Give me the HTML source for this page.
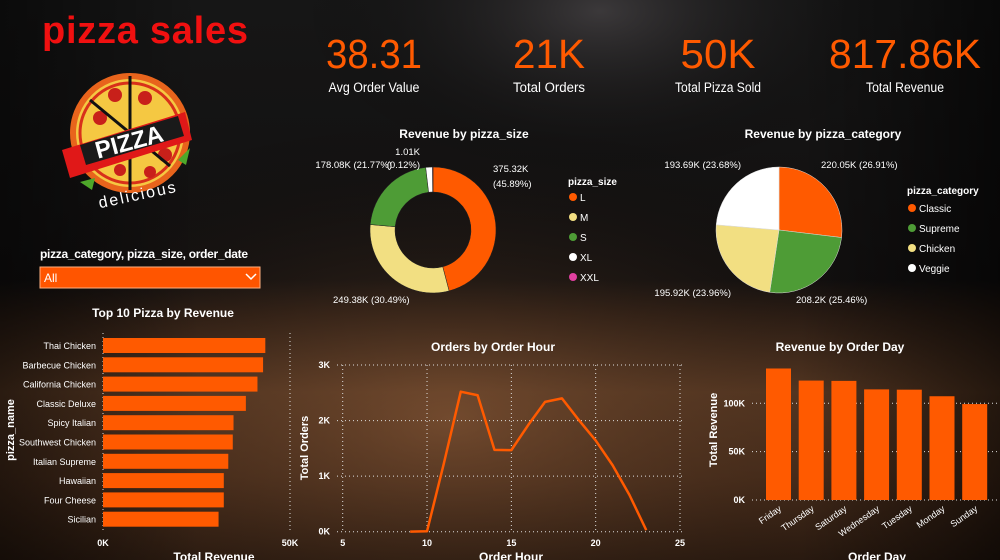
<!DOCTYPE html>
<html><head><meta charset="utf-8"><style>
html,body{margin:0;padding:0;width:1000px;height:560px;overflow:hidden;background:#111;font-family:"Liberation Sans",sans-serif}
svg{display:block}
text{font-family:"Liberation Sans",sans-serif}
</style></head><body>
<svg id="s" width="1000" height="560" viewBox="0 0 1000 560">
<defs>
<linearGradient id="bg" x1="0" y1="0" x2="0" y2="1">
<stop offset="0" stop-color="#161616"/><stop offset="0.5" stop-color="#121010"/><stop offset="0.56" stop-color="#2a1c14"/><stop offset="0.7" stop-color="#5a3a24"/><stop offset="0.85" stop-color="#4a2e1c"/><stop offset="1" stop-color="#2a1a10"/>
</linearGradient>
<radialGradient id="glow" cx="0.6" cy="0.02" r="0.3"><stop offset="0" stop-color="#5a5558" stop-opacity="0.55"/><stop offset="1" stop-color="#000" stop-opacity="0"/></radialGradient>
<radialGradient id="wood" cx="0.45" cy="0.75" r="0.55"><stop offset="0" stop-color="#8a5a38" stop-opacity="0.55"/><stop offset="1" stop-color="#000" stop-opacity="0"/></radialGradient>
<linearGradient id="side" x1="0" y1="0" x2="1" y2="0"><stop offset="0" stop-color="#000" stop-opacity="0.5"/><stop offset="0.2" stop-color="#000" stop-opacity="0"/><stop offset="0.8" stop-color="#000" stop-opacity="0"/><stop offset="1" stop-color="#000" stop-opacity="0.6"/></linearGradient>
</defs>
<rect width="1000" height="560" fill="url(#bg)"/>
<rect width="1000" height="560" fill="url(#glow)"/>
<rect width="1000" height="560" fill="url(#wood)"/>
<rect width="1000" height="560" fill="url(#side)"/>

<text x="42" y="43" font-size="38" font-weight="bold" fill="#f01010" textLength="206">pizza sales</text>

<g>
<circle cx="130" cy="133" r="57" fill="#f5c842" stroke="#e8641c" stroke-width="6"/>
<circle cx="130" cy="133" r="50" fill="none" stroke="#d8301a" stroke-width="3"/>
<circle cx="115" cy="95" r="7" fill="#c8201a"/><circle cx="145" cy="98" r="7" fill="#c8201a"/><circle cx="100" cy="118" r="7" fill="#c8201a"/>
<circle cx="165" cy="155" r="7" fill="#c8201a"/><circle cx="120" cy="170" r="6" fill="#c8201a"/><circle cx="150" cy="172" r="6" fill="#c8201a"/>
<line x1="130" y1="76" x2="130" y2="190" stroke="#111" stroke-width="3"/>
<line x1="90" y1="100" x2="170" y2="166" stroke="#111" stroke-width="3"/>
<polygon points="62,150 185,112 192,140 70,178" fill="#e01818"/>
<polygon points="80,145 178,116 184,136 86,165" fill="#1a1a1a"/>
<text x="130" y="150" font-size="24" font-weight="bold" fill="#fff" text-anchor="middle" transform="rotate(-15 130 145)">PIZZA</text>
<path d="M80 182 L95 178 L92 190Z" fill="#4ea82a"/><path d="M178 160 L190 148 L186 165Z" fill="#4ea82a"/>
<text x="138" y="200" font-size="16" fill="#fff" text-anchor="middle" letter-spacing="2" transform="rotate(-12 138 195)">delicious</text>
</g>

<g id="kpis"></g>

<text x="40" y="258" font-size="12" font-weight="bold" fill="#fff" textLength="208">pizza_category, pizza_size, order_date</text>
<g>
<rect x="40" y="267" width="220" height="21" fill="#ff5500" stroke="#ffb080" stroke-width="1"/>
<text x="44" y="282" font-size="12" fill="#fff">All</text>
<path d="M246 274 l5 5 l5 -5" fill="none" stroke="#fff" stroke-width="1.5"/>
</g>

<g id="donut"></g>
<g id="pie"></g>
<g id="top10"></g>
<g id="hour"></g>
<g id="day"></g>
</svg>
<script>
const kpiValues=["38.31","21K","50K","817.86K"];
const kpiLabels=["Avg Order Value","Total Orders","Total Pizza Sold","Total Revenue"];
const sizeCats=["L","M","S","XL","XXL"];
const sizeVals=[375.32,249.38,178.08,14.08,1.01];
const catNames=["Classic","Supreme","Chicken","Veggie"];
const catVals=[220.05,208.2,195.92,193.69];
const catLabels=["220.05K (26.91%)","208.2K (25.46%)","195.92K (23.96%)","193.69K (23.68%)"];
const topNames=["Thai Chicken","Barbecue Chicken","California Chicken","Classic Deluxe","Spicy Italian","Southwest Chicken","Italian Supreme","Hawaiian","Four Cheese","Sicilian"];
const topVals=[43.4,42.8,41.3,38.2,34.9,34.7,33.5,32.3,32.3,30.9];
const topTicks=[0,50];
const hours=[9,10,11,12,13,14,15,16,17,18,19,20,21,22,23];
const hourOrders=[1,8,1231,2520,2455,1472,1468,1920,2336,2399,2009,1642,1198,663,28];
const hourXTicks=[5,10,15,20,25];
const hourYTicks=[0,1000,2000,3000];
const days=["Friday","Thursday","Saturday","Wednesday","Tuesday","Monday","Sunday"];
const dayVals=[136,123.5,123.2,114.4,114.1,107.3,99.2];
const dayTicks=[0,50,100];

const NS="http://www.w3.org/2000/svg";
function mk(p,t,a,txt){const e=document.createElementNS(NS,t);for(const k in a)e.setAttribute(k,a[k]);if(txt!==undefined)e.textContent=txt;p.appendChild(e);return e;}
const O="#ff5a00";

// KPIs
const kg=document.getElementById('kpis');const kx=[374,549,718,905];const kw=[96,72,75,152];const lw=[91,72,86,78];
kpiValues.forEach((v,i)=>{
 const t=mk(kg,'text',{x:kx[i]-kw[i]/2,y:68,'font-size':41,fill:O,textLength:kw[i],lengthAdjust:'spacingAndGlyphs'},v);
 
 const l=mk(kg,'text',{x:kx[i]-lw[i]/2,y:92,'font-size':13.5,fill:'#fff',textLength:lw[i],lengthAdjust:'spacingAndGlyphs'},kpiLabels[i]);
 
});

function arc(cx,cy,r,ri,a0,a1){const p=(a,rr)=>[cx+rr*Math.sin(a),cy-rr*Math.cos(a)];const lg=a1-a0>Math.PI?1:0;
 const [x0,y0]=p(a0,r),[x1,y1]=p(a1,r);
 if(ri>0){const [x2,y2]=p(a1,ri),[x3,y3]=p(a0,ri);return `M${x0},${y0}A${r},${r} 0 ${lg} 1 ${x1},${y1}L${x2},${y2}A${ri},${ri} 0 ${lg} 0 ${x3},${y3}Z`;}
 return `M${cx},${cy}L${x0},${y0}A${r},${r} 0 ${lg} 1 ${x1},${y1}Z`;}

// Donut
const dg=document.getElementById('donut');
mk(dg,'text',{x:464,y:138,'font-size':12,'font-weight':'bold',fill:'#fff','text-anchor':'middle'},'Revenue by pizza_size');
const sizeCol=["#ff5a00","#f2df82","#4e9c36","#ffffff","#e040a0"];
const dcx=433,dcy=230;let tot=sizeVals.reduce((a,b)=>a+b,0),a=0;
sizeVals.forEach((v,i)=>{const a1=a+v/tot*2*Math.PI;const p=mk(dg,'path',{d:arc(dcx,dcy,63,38,a,a1),fill:sizeCol[i],stroke:'#222','stroke-width':0.5});
 a=a1;});
[[493,172,'375.32K','start'],[493,187,'(45.89%)','start'],[333,303,'249.38K (30.49%)','start'],[392,168,'178.08K (21.77%)','end'],[420,155,'1.01K','end'],[420,168,'(0.12%)','end']].forEach(d=>{
 const t=mk(dg,'text',{x:d===undefined?0:d[0],y:d[1],'font-size':9.5,fill:'#fff','text-anchor':d[3]},d[2]);
 });
mk(dg,'text',{x:568,y:185,'font-size':10,'font-weight':'bold',fill:'#fff'},'pizza_size');
sizeCats.forEach((c,i)=>{const g=mk(dg,'g',{});
 mk(g,'circle',{cx:573,cy:197+i*20,r:4,fill:sizeCol[i]});mk(g,'text',{x:580,y:201+i*20,'font-size':10,fill:'#fff'},c);});

// Pie
const pg=document.getElementById('pie');
mk(pg,'text',{x:823,y:138,'font-size':12,'font-weight':'bold',fill:'#fff','text-anchor':'middle'},'Revenue by pizza_category');
const catCol=["#ff5a00","#4e9c36","#f2df82","#ffffff"];
tot=catVals.reduce((a,b)=>a+b,0);a=0;
catVals.forEach((v,i)=>{const a1=a+v/tot*2*Math.PI;const p=mk(pg,'path',{d:arc(779,230,63,0,a,a1),fill:catCol[i],stroke:'#ddd','stroke-width':0.5});
 a=a1;});
[[821,168,'start'],[796,303,'start'],[731,296,'end'],[741,168,'end']].forEach((d,i)=>{
 const t=mk(pg,'text',{x:d[0],y:d[1],'font-size':9.5,fill:'#fff','text-anchor':d[2]},catLabels[i]);});
mk(pg,'text',{x:907,y:194,'font-size':10,'font-weight':'bold',fill:'#fff'},'pizza_category');
catNames.forEach((c,i)=>{const g=mk(pg,'g',{});
 mk(g,'circle',{cx:912,cy:208+i*20,r:4,fill:catCol[i]});mk(g,'text',{x:919,y:212+i*20,'font-size':10,fill:'#fff'},c);});

// Top 10
const tg=document.getElementById('top10');
const tx=v=>103+v/50*187;
mk(tg,'text',{x:163,y:317,'font-size':12,'font-weight':'bold',fill:'#fff','text-anchor':'middle'},'Top 10 Pizza by Revenue');
topTicks.forEach(t=>{mk(tg,'line',{x1:tx(t),y1:333,x2:tx(t),y2:530,stroke:'#ddd','stroke-dasharray':'1,3'});
 const l=mk(tg,'text',{x:tx(t),y:546,'font-size':9,fill:'#fff','text-anchor':'middle','font-weight':'bold'},t+'K');});
topNames.forEach((n,i)=>{const y=338+i*19.3;
 const r=mk(tg,'rect',{x:tx(0),y:y,width:tx(topVals[i])-tx(0),height:15,fill:O});
 const t=mk(tg,'text',{x:96,y:y+11,'font-size':9,fill:'#fff','text-anchor':'end'},n);});
mk(tg,'text',{x:214,y:561,'font-size':12,'font-weight':'bold',fill:'#fff','text-anchor':'middle'},'Total Revenue');
mk(tg,'text',{x:14,y:430,'font-size':11,'font-weight':'bold',fill:'#fff','text-anchor':'middle',transform:'rotate(-90 14 430)'},'pizza_name');

// Hour line
const hg=document.getElementById('hour');
const hx=v=>342.7+(v-5)/20*337.3, hy=v=>531.7-v/3000*166.7;
mk(hg,'text',{x:493,y:351,'font-size':12,'font-weight':'bold',fill:'#fff','text-anchor':'middle'},'Orders by Order Hour');
hourYTicks.forEach(t=>{mk(hg,'line',{x1:337,y1:hy(t),x2:685,y2:hy(t),stroke:'#ddd','stroke-dasharray':'1,3'});
 const l=mk(hg,'text',{x:330,y:hy(t)+3,'font-size':9,fill:'#fff','text-anchor':'end','font-weight':'bold'},(t/1000)+'K');});
hourXTicks.forEach(t=>{mk(hg,'line',{x1:hx(t),y1:hy(3000),x2:hx(t),y2:hy(0),stroke:'#ddd','stroke-dasharray':'1,3'});
 const l=mk(hg,'text',{x:hx(t),y:546,'font-size':9,fill:'#fff','text-anchor':'middle','font-weight':'bold'},t);});
const ln=mk(hg,'polyline',{points:hours.map((h,i)=>hx(h)+','+hy(hourOrders[i])).join(' '),fill:'none',stroke:O,'stroke-width':2.5,'stroke-linejoin':'round'});

mk(hg,'text',{x:511,y:561,'font-size':12,'font-weight':'bold',fill:'#fff','text-anchor':'middle'},'Order Hour');
mk(hg,'text',{x:308,y:448,'font-size':11,'font-weight':'bold',fill:'#fff','text-anchor':'middle',transform:'rotate(-90 308 448)'},'Total Orders');

// Day bars
const yg=document.getElementById('day');
const dy=v=>500-v/100*96.7;
mk(yg,'text',{x:840,y:351,'font-size':12,'font-weight':'bold',fill:'#fff','text-anchor':'middle'},'Revenue by Order Day');
dayTicks.forEach(t=>{mk(yg,'line',{x1:752,y1:dy(t),x2:1000,y2:dy(t),stroke:'#ddd','stroke-dasharray':'1,3'});
 const l=mk(yg,'text',{x:745,y:dy(t)+3,'font-size':9,fill:'#fff','text-anchor':'end','font-weight':'bold'},t+'K');});
days.forEach((d,i)=>{const x=766+i*32.7;
 const r=mk(yg,'rect',{x:x,y:dy(dayVals[i]),width:25,height:dy(0)-dy(dayVals[i]),fill:O});
 const t=mk(yg,'text',{x:x+16,y:510,'font-size':9,fill:'#fff','text-anchor':'end',transform:`rotate(-35 ${x+16} 510)`},d);});
mk(yg,'text',{x:877,y:561,'font-size':12,'font-weight':'bold',fill:'#fff','text-anchor':'middle'},'Order Day');
mk(yg,'text',{x:717,y:430,'font-size':11,'font-weight':'bold',fill:'#fff','text-anchor':'middle',transform:'rotate(-90 717 430)'},'Total Revenue');
</script>
</body></html>
